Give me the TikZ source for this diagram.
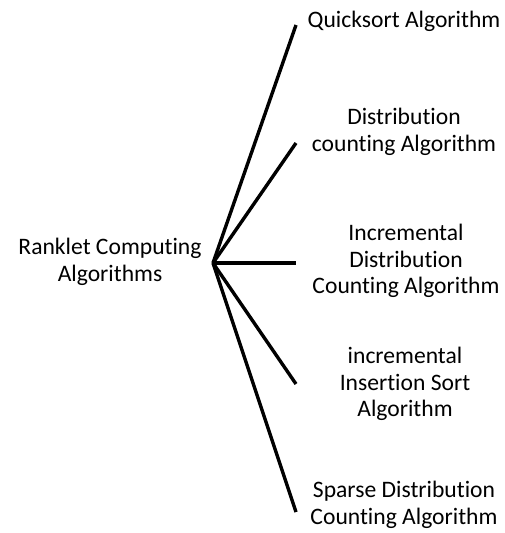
\documentclass[tikz,border=0pt]{standalone}
\usepackage{fontspec}
\setmainfont[Ligatures=NoCommon]{Carlito}
\begin{document}
\begin{tikzpicture}[x=1pt,y=-1pt,
  leaf/.style={align=center,inner sep=0pt,font=\fontsize{23.6}{26.5}\selectfont},
  branch/.style={line width=3.4pt}]
\useasboundingbox (0,0) rectangle (505,533);
\node[leaf] (root) at (110,262) {Ranklet Computing\\Algorithms};
\coordinate (hub) at (213,263);
\coordinate (e1) at (296,25);
\coordinate (e2) at (296,143);
\coordinate (e3) at (296,263);
\coordinate (e4) at (296,384);
\coordinate (e5) at (296,512);
\node[leaf] (a1) at (404,21) {Quicksort Algorithm};
\node[leaf] (a2) at (404,132) {Distribution\\counting Algorithm};
\node[leaf] (a3) at (406,261) {Incremental\\Distribution\\Counting Algorithm};
\node[leaf] (a4) at (405,384) {incremental\\Insertion Sort\\Algorithm};
\node[leaf] (a5) at (404,505) {Sparse Distribution\\Counting Algorithm};
\foreach \e in {e1,e2,e3,e4,e5} \draw[branch] (hub) -- (\e);
\end{tikzpicture}
\end{document}
